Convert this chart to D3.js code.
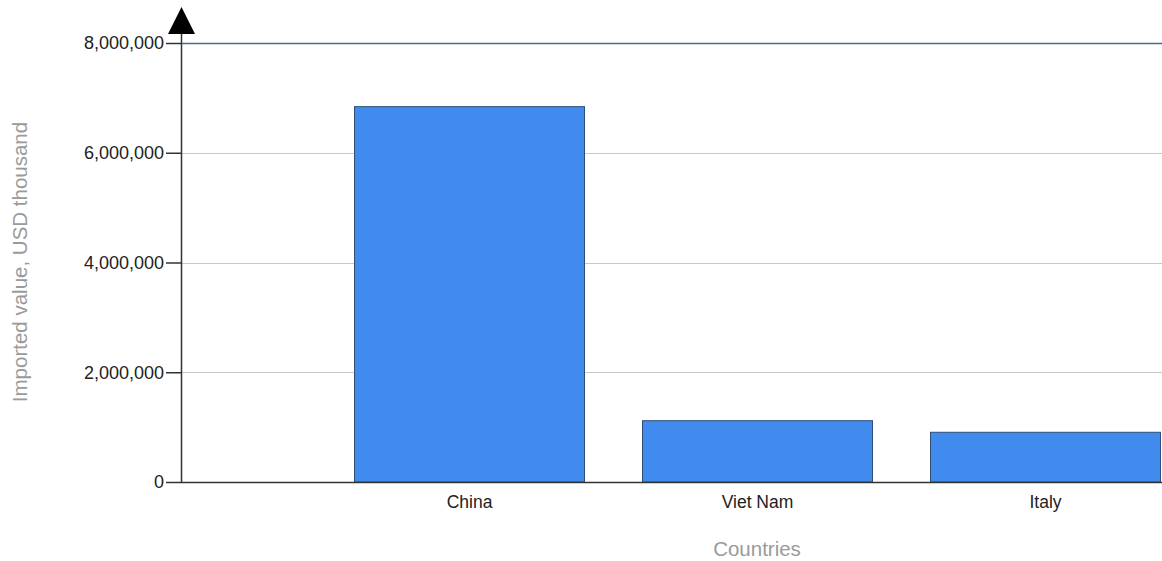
<!DOCTYPE html>
<html>
<head>
<meta charset="utf-8">
<script src="https://cdn.jsdelivr.net/npm/d3@7"></script>
<style>
  html, body { margin: 0; padding: 0; background: #fff; }
  svg { display: block; font-family: "Liberation Sans", Arial, sans-serif; }
</style>
</head>
<body>
<div id="chart"></div>
<script>
// data
const countries = ["", "China", "Viet Nam", "Italy"];
const values = [null, 6840000, 1117000, 906000];
const yTicks = [0, 2000000, 4000000, 6000000, 8000000];

const W = 1162, H = 561;
const margin = { top: 43, right: 0, bottom: 79, left: 181 };
const height = H - margin.top - margin.bottom;

const svg = d3.select("#chart").append("svg")
  .attr("width", W)
  .attr("height", H);

const g = svg.append("g")
  .attr("transform", `translate(${margin.left},${margin.top})`);

// first slot is empty, categories are spaced evenly from the axis
const x = d3.scalePoint()
  .domain(countries)
  .range([0, 864]);
const barW = 230;

const y = d3.scaleLinear()
  .domain([0, 8000000])
  .range([height, 0]);

// grid
g.selectAll(".grid")
  .data(yTicks.filter(d => d > 0))
  .enter()
  .append("line")
  .attr("x1", 0)
  .attr("x2", W - margin.left)
  .attr("y1", d => Math.round(y(d)) + 0.5)
  .attr("y2", d => Math.round(y(d)) + 0.5)
  .attr("stroke", d => d === 8000000 ? "#4a6a94" : "#c8c8c8")
  .attr("stroke-width", d => d === 8000000 ? 1.5 : 1);

const data = countries.map((c, i) => ({ c: c, v: values[i] })).filter(d => d.v != null);

g.selectAll(".bar")
  .data(data)
  .enter()
  .append("rect")
  .attr("class", "bar")
  .attr("x", d => x(d.c) - barW / 2 + 0.5)
  .attr("y", d => y(d.v))
  .attr("width", barW)
  .attr("height", d => height - y(d.v))
  .attr("fill", "#418bee")
  .attr("stroke", "#2f4d75")
  .attr("stroke-width", 1);

// y axis
const yAxis = g.append("g")
  .call(d3.axisLeft(y)
    .tickValues(yTicks)
    .tickSize(15)
    .tickPadding(2)
    .tickFormat(d3.format(",")));
yAxis.select(".domain").remove();
yAxis.selectAll(".tick line").attr("stroke", "#333").attr("stroke-width", 1.5);
yAxis.selectAll("text")
  .style("font-size", "18px")
  .attr("fill", "#222");

g.append("line")
  .attr("x1", 0.5).attr("x2", 0.5)
  .attr("y1", -10).attr("y2", height)
  .attr("stroke", "#333")
  .attr("stroke-width", 1.5);

// arrow head
g.append("path")
  .attr("d", "M0.5,-36 L14,-9 L-13,-9 Z")
  .attr("fill", "#000");

// x axis
const xAxis = g.append("g")
  .attr("transform", `translate(0,${height})`)
  .call(d3.axisBottom(x).tickSize(0).tickPadding(14));
xAxis.select(".domain")
  .attr("d", `M0,0.5H${W - margin.left}`)
  .attr("stroke", "#333")
  .attr("stroke-width", 1.5);
xAxis.selectAll("text")
  .style("font-size", "17.5px")
  .attr("fill", "#222");

// titles
svg.append("text")
  .attr("x", margin.left + x("Viet Nam"))
  .attr("y", 556)
  .attr("text-anchor", "middle")
  .attr("fill", "#9a9a9a")
  .style("font-size", "20.5px")
  .text("Countries");

svg.append("text")
  .attr("transform", `translate(27,262) rotate(-90)`)
  .attr("text-anchor", "middle")
  .attr("fill", "#9a9a9a")
  .style("font-size", "20.5px")
  .text("Imported value, USD thousand");
</script>
</body>
</html>
